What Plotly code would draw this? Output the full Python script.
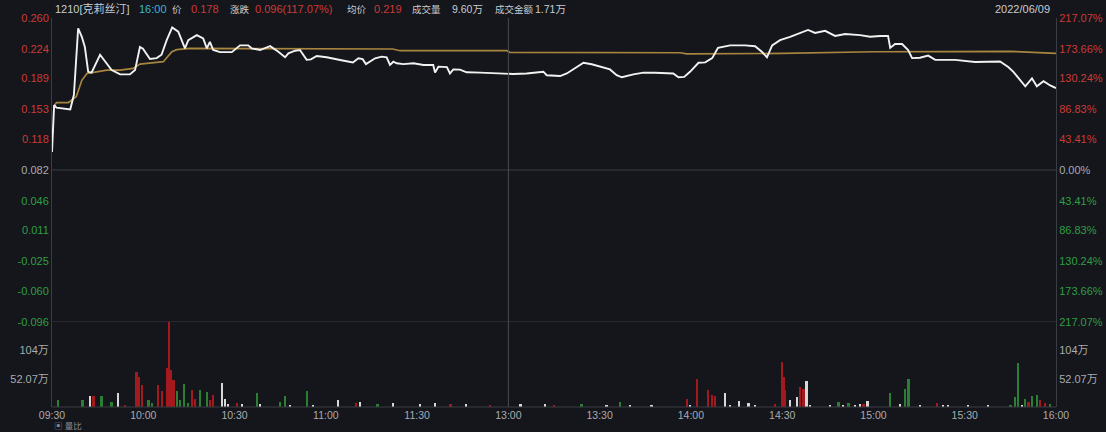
import plotly.graph_objects as go

# ---------------- data ----------------
prev_close = 0.082
session_minutes = 330  # 09:30-12:00 + 13:00-16:00

# minutes from the open (afternoon continues at 150 = 13:00)
price_min = [0, 0.7, 1.5, 6, 7.2, 8.6, 9.8, 10.8, 11.9, 13, 15.8, 18, 19.6, 22.4, 25.6, 27.3,
             28.9, 29.9, 32.2, 34.4, 36, 37.7, 39.5, 41.5, 43.7, 44.8, 47.6, 49.7, 50.9, 51.9,
             53, 55.2, 59.1, 61.8, 64.5, 65.6, 68.4, 71.7, 74.4, 76.6, 77.7, 79.9, 81.5, 83.7,
             85.1, 87, 90.3, 94.7, 97.4, 98.9, 100.7, 102.1, 103.2, 106.2, 108.4, 110, 111.1,
             112.2, 113.3, 115.5, 118.8, 122.1, 125.3, 125.9, 127, 129.8, 130.8, 131.9, 134.1,
             136.3, 140.7, 146.2, 149.2, 151.6, 156, 161.5, 162.6, 167, 169.2, 171.4, 174.7,
             177.4, 180.1, 183.4, 185.6, 187.3, 191.1, 194.4, 198.2, 204.2, 205.9, 207.8,
             209.7, 212.5, 214.7, 217, 218.9, 222.9, 227.8, 231.1, 233.4, 235, 236.7, 239.3,
             242.6, 245.9, 248.5, 250.8, 254.1, 257.4, 260.7, 265.6, 268.9, 272.2, 274.8,
             275.5, 277.1, 279.4, 281.4, 282.7, 285.3, 288, 290.3, 296.8, 303.4, 311.6, 314.3,
             316, 318.2, 319.9, 322.1, 323.7, 325.9, 328.1, 330]
price_val = [0.103, 0.158, 0.155, 0.153, 0.170, 0.248, 0.238, 0.226, 0.197, 0.196, 0.217, 0.207,
             0.199, 0.194, 0.194, 0.199, 0.226, 0.224, 0.212, 0.213, 0.217, 0.234, 0.249, 0.244,
             0.2245, 0.234, 0.240, 0.236, 0.2245, 0.232, 0.2225, 0.220, 0.220, 0.228, 0.228,
             0.2245, 0.2225, 0.227, 0.2205, 0.214, 0.2187, 0.2217, 0.2225, 0.211, 0.2115,
             0.2155, 0.214, 0.2108, 0.2085, 0.208, 0.2128, 0.2118, 0.206, 0.2128, 0.2147,
             0.214, 0.205, 0.2088, 0.207, 0.206, 0.207, 0.205, 0.205, 0.196, 0.203, 0.2025,
             0.195, 0.1998, 0.1995, 0.1964, 0.196, 0.195, 0.1945, 0.1944, 0.195, 0.1971, 0.193,
             0.192, 0.195, 0.1998, 0.2076, 0.2058, 0.203, 0.1998, 0.193, 0.1906, 0.194, 0.196,
             0.1958, 0.195, 0.1906, 0.191, 0.197, 0.2076, 0.208, 0.213, 0.225, 0.228, 0.228,
             0.227, 0.2202, 0.214, 0.228, 0.234, 0.238, 0.243, 0.246, 0.2425, 0.245, 0.239,
             0.2413, 0.240, 0.238, 0.239, 0.239, 0.225, 0.2295, 0.2295, 0.2225, 0.213, 0.2135,
             0.216, 0.211, 0.211, 0.2085, 0.209, 0.2026, 0.197, 0.1874, 0.180, 0.1894, 0.180,
             0.186, 0.181, 0.178]

avg_min = [0.5, 1.5, 5.4, 8, 9.8, 11.5, 14.7, 18, 22.4, 26.7, 28.9, 32.2, 36.6, 39.4, 41,
           45.4, 81.5, 112, 114.4, 149.5, 150.5, 206.5, 208.6, 240, 270, 300, 315, 330]
avg_val = [0.156, 0.161, 0.161, 0.168, 0.187, 0.195, 0.197, 0.199, 0.199, 0.201, 0.206, 0.207,
           0.2088, 0.2205, 0.223, 0.2245, 0.2245, 0.2237, 0.2217, 0.2217, 0.2198, 0.2193,
           0.218, 0.2185, 0.2205, 0.221, 0.221, 0.2185]

# volume in 万, direction: r = up, g = down, w = unchanged
vol_min = [2, 10, 12.5, 13.6, 16.3, 19.6, 21.8, 24, 27.8, 28.7, 29.5, 31.7, 32.9, 34.9, 36.2,
           37.7, 38.5, 39.1, 39.9, 41, 42, 43.5, 44.7, 45.9, 47, 48.7, 50.9, 51.9, 53, 55.8,
           56.9, 57.9, 60.7, 62.4, 67.3, 68.4, 75, 76.6, 78.2, 83.7, 85.8, 94.1, 100, 101.3,
           107, 112, 121, 126, 131, 136, 144, 154, 162, 165, 174, 182.3, 186.7, 190, 197,
           208.6, 209.7, 211.9, 215.7, 216.9, 218, 221.2, 222.9, 225.9, 228.9, 231.1, 237.7,
           239.9, 240.4, 241, 242.6, 244.8, 245.9, 247, 248, 249.2, 255.7, 258.5, 260, 261.8,
           264, 265.6, 266.7, 268, 275.5, 278.8, 280.4, 281.5, 285.3, 290.8, 292.9, 294.5,
           301, 307.7, 315, 316.6, 317.6, 318.8, 319.9, 321, 322.1, 323.7, 324.8, 326.4, 328.1]
vol_val = [13.6, 12, 20, 21, 21, 10, 26, 3, 65, 55, 40, 12, 8, 40, 30,
           71, 157, 68, 50, 30, 12, 43, 8, 31, 15, 32, 28, 12, 22, 45,
           15, 6, 7, 5, 26, 6, 10, 20, 4, 30, 4, 12, 8, 10,
           6, 8, 5, 8, 6, 6, 4, 6, 5, 4, 6, 3, 10, 4, 3,
           15, 3, 52, 31, 22, 20, 25, 3, 11, 8, 3, 5,
           83, 55, 31, 12, 19, 37, 33, 48, 3, 3, 9, 3, 8,
           3, 6, 6, 11, 26, 5, 34, 52, 2, 8, 3, 4,
           2, 3, 4, 18, 80, 4, 15, 10, 20, 22, 12, 8, 5]
vol_dir = ['g', 'g', 'w', 'r', 'g', 'g', 'w', 'r', 'r', 'r', 'r', 'g', 'g', 'r', 'r',
           'r', 'r', 'r', 'r', 'g', 'g', 'g', 'g', 'r', 'r', 'g', 'g', 'r', 'r', 'w',
           'w', 'w', 'r', 'w', 'g', 'w', 'g', 'g', 'w', 'g', 'w', 'w', 'r', 'w',
           'g', 'w', 'w', 'w', 'r', 'w', 'r', 'w', 'w', 'r', 'g', 'w', 'g', 'w', 'w',
           'r', 'w', 'r', 'r', 'r', 'r', 'w', 'w', 'w', 'w', 'w', 'r',
           'r', 'r', 'r', 'w', 'w', 'r', 'r', 'w', 'w', 'w', 'g', 'w', 'g',
           'w', 'w', 'r', 'w', 'g', 'w', 'g', 'g', 'w', 'r', 'w', 'w',
           'w', 'w', 'g', 'g', 'g', 'w', 'g', 'r', 'g', 'g', 'r', 'r', 'g']

x_tick_min = [0, 30, 60, 90, 120, 150, 180, 210, 240, 270, 300, 330]
x_tick_text = ["09:30", "10:00", "10:30", "11:00", "11:30", "13:00", "13:30", "14:00",
               "14:30", "15:00", "15:30", "16:00"]

price_ticks = [0.260, 0.224, 0.189, 0.153, 0.118, 0.082, 0.046, 0.011, -0.025, -0.060, -0.096]
price_tick_text = ["0.260", "0.224", "0.189", "0.153", "0.118", "0.082", "0.046", "0.011",
                   "-0.025", "-0.060", "-0.096"]
pct_tick_text = ["217.07%", "173.66%", "130.24%", "86.83%", "43.41%", "0.00%", "43.41%",
                 "86.83%", "130.24%", "173.66%", "217.07%"]
vol_ticks = [52.07, 104.14]
vol_tick_text = ["52.07万", "104万"]
vol_max = 156.2

header = [("1210[克莉丝汀]", "n", 11), ("16:00", "c", 11), ("价", "n", 9.5), ("0.178", "r", 11),
          ("涨跌", "n", 9.5), ("0.096(117.07%)", "r", 11), ("均价", "n", 9.5), ("0.219", "r", 11),
          ("成交量", "n", 9.5), ("9.60万", "n", 10.5), ("成交金额", "n", 9.5), ("1.71万", "n", 10.5)]
header_x = [53, 137, 170, 189, 228, 253, 345, 372, 410, 450, 493, 533]
date_text = "2022/06/09"

# ---------------- style ----------------
BG = "#14161b"
RED = "#cc3a35"
GREEN = "#2f9e44"
GREY = "#a9abb0"
LINE = "#3a3d44"
FONT = "Liberation Sans, Noto Sans CJK SC, sans-serif"
vol_colors = {'r': "#a3191d", 'g': "#2a7f33", 'w': "#d8d8d8"}
head_colors = {'n': "#c9cbd0", 'c': "#3cb4d6", 'r': RED}

plot_left, plot_right = 52, 1056
plot_top, plot_bottom = 18, 407


def tick_color(v):
    if abs(v - prev_close) < 1e-6:
        return GREY
    return RED if v > prev_close else GREEN


price_lbl = [f"<span style='color:{tick_color(v)}'>{t}</span>" for v, t in zip(price_ticks, price_tick_text)]
pct_lbl = [f"<span style='color:{tick_color(v)}'>{t}</span>" for v, t in zip(price_ticks, pct_tick_text)]

fig = go.Figure()

fig.add_trace(go.Scatter(x=avg_min, y=avg_val, mode="lines", line=dict(color="#a8853f", width=1.7),
                         xaxis="x", yaxis="y", hoverinfo="skip", showlegend=False))
fig.add_trace(go.Scatter(x=price_min, y=price_val, mode="lines", line=dict(color="#f2f2f2", width=1.9),
                         xaxis="x", yaxis="y", showlegend=False))
fig.add_trace(go.Scatter(x=price_min, y=price_val, mode="lines", opacity=0, xaxis="x", yaxis="y3",
                         hoverinfo="skip", showlegend=False))
fig.add_trace(go.Bar(x=vol_min, y=vol_val, marker=dict(color=[vol_colors[d] for d in vol_dir], line_width=0),
                     width=0.75, xaxis="x", yaxis="y2", showlegend=False))
fig.add_trace(go.Bar(x=vol_min, y=vol_val, opacity=0, width=0.75, xaxis="x", yaxis="y4",
                     hoverinfo="skip", showlegend=False))

split = 85 / (plot_bottom - plot_top)
axis_common = dict(showgrid=False, zeroline=False, ticks="", automargin=False)

fig.update_layout(
    width=1106, height=432,
    margin=dict(l=plot_left, r=1106 - plot_right, t=plot_top, b=432 - plot_bottom, autoexpand=False),
    paper_bgcolor=BG, plot_bgcolor=BG,
    font=dict(family=FONT, size=11, color=GREY),
    bargap=0,
    xaxis=dict(range=[0, session_minutes], domain=[0, 1], anchor="y2",
               tickvals=x_tick_min, ticktext=x_tick_text, showline=False,
               tickfont=dict(size=10.5, color=GREY), **axis_common),
    yaxis=dict(domain=[split, 1], range=[price_ticks[-1], price_ticks[0]], anchor="x",
               tickvals=price_ticks, ticktext=price_lbl,
               showline=True, linecolor=LINE, linewidth=1, tickfont=dict(size=11), **axis_common),
    yaxis3=dict(overlaying="y", side="right", range=[price_ticks[-1], price_ticks[0]], anchor="x",
                tickvals=price_ticks, ticktext=pct_lbl,
                showline=True, linecolor=LINE, linewidth=1, tickfont=dict(size=11), **axis_common),
    yaxis2=dict(domain=[0, split], range=[0, vol_max], anchor="x",
                tickvals=vol_ticks, ticktext=vol_tick_text,
                showline=True, linecolor=LINE, linewidth=1, tickfont=dict(size=11, color=GREY), **axis_common),
    yaxis4=dict(overlaying="y2", side="right", range=[0, vol_max], anchor="x",
                tickvals=vol_ticks, ticktext=vol_tick_text,
                showline=True, linecolor=LINE, linewidth=1, tickfont=dict(size=11, color=GREY), **axis_common),
)

# reference lines: previous close, panel divider, lunch break, bottom edge
fig.add_shape(type="line", xref="paper", yref="y", x0=0, x1=1, y0=prev_close, y1=prev_close,
              line=dict(color=LINE, width=1))
fig.add_shape(type="line", xref="paper", yref="y", x0=0, x1=1, y0=price_ticks[-1], y1=price_ticks[-1],
              line=dict(color=LINE, width=1))
fig.add_shape(type="line", xref="x", yref="paper", x0=150, x1=150, y0=0, y1=1,
              line=dict(color="#4a4d54", width=1))
fig.add_shape(type="line", xref="paper", yref="paper", x0=0, x1=1, y0=0, y1=0,
              line=dict(color=LINE, width=1))

for (txt, c, sz), px in zip(header, header_x):
    fig.add_annotation(xref="paper", yref="paper", x=0, y=1, xshift=px - plot_left, yshift=9,
                       text=txt, showarrow=False, xanchor="left", yanchor="middle",
                       font=dict(size=sz, color=head_colors[c], family=FONT))
fig.add_annotation(xref="paper", yref="paper", x=1, y=1, xshift=-4, yshift=9, text=date_text,
                   showarrow=False, xanchor="right", yanchor="middle",
                   font=dict(size=11, color="#c9cbd0", family=FONT))
fig.add_annotation(xref="paper", yref="paper", x=0, y=0, xshift=0, yshift=-19, text="▣ 量比",
                   showarrow=False, xanchor="left", yanchor="middle",
                   font=dict(size=8.5, color="#8a8c90", family=FONT))

fig.write_html("out.html", config={"displayModeBar": False},
               post_script="document.body.style.margin='0';document.body.style.padding='0';"
                           "document.body.style.background='" + BG + "';")
